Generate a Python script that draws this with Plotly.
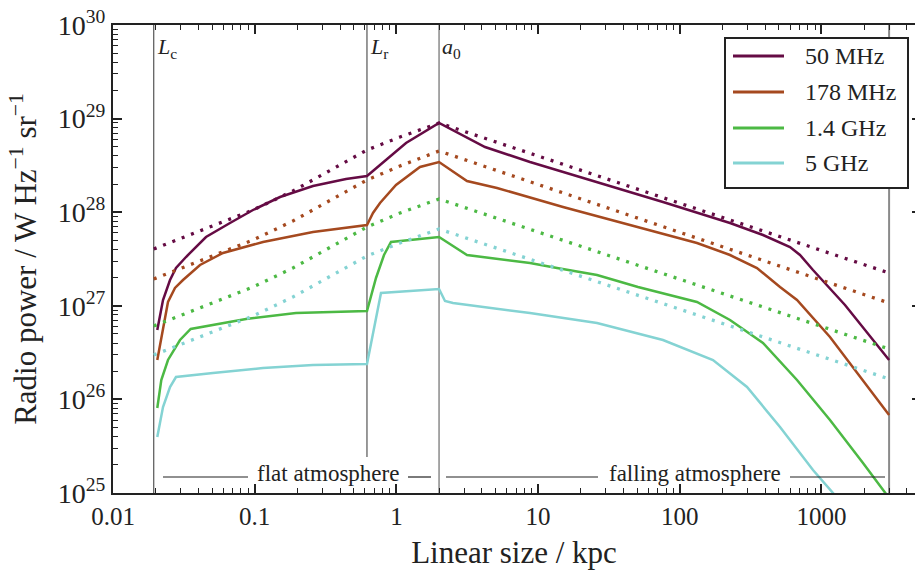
import math
import plotly.graph_objects as go

# ---------------- data ----------------
series_names = ["50 MHz", "178 MHz", "1.4 GHz", "5 GHz"]
series_colors = ["#650b44", "#a5491f", "#4cb944", "#84d3d3"]

x_50 = [0.02054, 0.02254, 0.02526, 0.02783, 0.03275, 0.04532, 0.06694, 0.09727, 0.1509, 0.2578,
        0.4408, 0.6201, 0.7663, 1.169, 2.0, 4.221, 8.767, 26.05, 76.08, 226.1, 386.5, 599.6,
        705.1, 871.0, 1465, 3000]
y_50 = [5.51e26, 1.153e27, 1.886e27, 2.534e27, 3.322e27, 5.433e27, 7.666e27, 1.056e28, 1.453e28,
        1.905e28, 2.263e28, 2.437e28, 3.194e28, 5.487e28, 8.974e28, 4.974e28, 3.439e28, 2.102e28,
        1.285e28, 7.666e27, 5.705e27, 4.248e27, 3.489e27, 2.413e27, 1.020e27, 2.637e26]

x_178 = [0.02054, 0.02217, 0.02444, 0.02738, 0.03119, 0.04111, 0.05974, 0.1144, 0.2578, 0.6201,
         0.6837, 0.7663, 0.9936, 1.467, 2.0, 3.149, 5.129, 14.99, 44.53, 132.2, 226.1, 350.6,
         509.6, 671.7, 1148, 1963, 3000]
y_178 = [2.637e26, 5.122e26, 1.098e27, 1.550e27, 1.886e27, 2.728e27, 3.666e27, 4.804e27, 6.145e27,
         7.298e27, 9.806e27, 1.254e28, 1.953e28, 3.040e28, 3.439e28, 2.154e28, 1.814e28, 1.137e28,
         7.298e27, 4.687e27, 3.489e27, 2.534e27, 1.588e27, 1.153e27, 4.642e26, 1.612e26, 6.813e25]

x_1400 = [0.02054, 0.02192, 0.02444, 0.02971, 0.03534, 0.08682, 0.1956, 0.6201, 0.7178, 0.8177,
          0.916, 2.0, 3.149, 8.767, 13.6, 26.05, 50.7, 132.2, 226.1, 386.5, 671.7, 1148, 1963, 3000]
y_1400 = [8.094e25, 1.612e26, 2.637e26, 4.311e26, 5.651e26, 7.228e26, 8.377e26, 8.799e26, 1.982e27,
          3.489e27, 4.804e27, 5.433e27, 3.489e27, 2.866e27, 2.534e27, 2.134e27, 1.588e27, 1.098e27,
          7.053e26, 4.005e26, 1.612e26, 6.025e25, 2.092e25, 8.84e24]

x_5000 = [0.02054, 0.02254, 0.02526, 0.02783, 0.05077, 0.1144, 0.2578, 0.6201, 0.7787, 2.0, 2.203,
          2.508, 8.767, 26.05, 76.08, 171.5, 298.1, 509.6, 871.0, 1206, 1869]
y_5000 = [3.966e25, 8.296e25, 1.357e26, 1.735e26, 1.915e26, 2.165e26, 2.331e26, 2.389e26, 1.370e27,
          1.512e27, 1.125e27, 1.071e27, 8.377e26, 6.551e26, 4.311e26, 2.637e26, 1.357e26, 5.072e25,
          1.761e25, 1.0e25, 4.03e24]

x_dot = [0.0194, 0.0508, 0.0973, 0.186, 0.340, 0.620, 1.06, 2.0, 3000]
y_50_dot = [4.045e27, 7.124e27, 1.056e28, 1.684e28, 2.824e28, 4.618e28, 6.358e28, 8.974e28, 2.241e27]
y_178_dot = [1.934e27, 3.405e27, 5.047e27, 8.054e27, 1.350e28, 2.208e28, 3.116e28, 4.506e28, 1.071e27]
y_1400_dot = [6.085e26, 1.071e27, 1.588e27, 2.534e27, 4.248e27, 6.948e27, 9.806e27, 1.384e28, 3.456e26]
y_5000_dot = [2.981e26, 5.250e26, 7.780e26, 1.242e27, 2.082e27, 3.405e27, 4.687e27, 6.616e27, 1.652e26]

marker_names = ["<i>L</i><sub>c</sub>", "<i>L</i><sub>r</sub>", "<i>a</i><sub>0</sub>", ""]
marker_x = [0.0194, 0.62, 2.0, 3000]

x_tickvals = [0.01, 0.1, 1, 10, 100, 1000]
x_ticktext = ["0.01", "0.1", "1", "10", "100", "1000"]
y_tickvals = [1e25, 1e26, 1e27, 1e28, 1e29, 1e30]
y_ticktext = ["10<sup>25</sup>", "10<sup>26</sup>", "10<sup>27</sup>", "10<sup>28</sup>",
              "10<sup>29</sup>", "10<sup>30</sup>"]
x_minor = [m * 10.0 ** k for k in range(-2, 4) for m in range(2, 10)]
y_minor = [m * 10.0 ** k for k in range(25, 30) for m in range(2, 10)]

# ---------------- layout helpers (pixel geometry) ----------------
W, H = 915, 573
PL, PR, PT, PB = 113, 915, 25, 493
FONT = "Liberation Serif"
INK = "#222222"
XRANGE = [-2, math.log10(4570)]
YRANGE = [25, 30]


def pxx(p):
    return (p - PL) / (PR - PL)


def pxy(p):
    return (PB - p) / (PB - PT)


fig = go.Figure()

solids = [(x_50, y_50), (x_178, y_178), (x_1400, y_1400), (x_5000, y_5000)]
dots = [y_50_dot, y_178_dot, y_1400_dot, y_5000_dot]

for (xs, ys), yd, name, col in zip(solids, dots, series_names, series_colors):
    fig.add_trace(go.Scatter(x=xs, y=ys, mode="lines", name=name,
                             line=dict(color=col, width=2.5), showlegend=False))
    fig.add_trace(go.Scatter(x=x_dot, y=yd, mode="lines", name=name + " (model)",
                             line=dict(color=col, width=3.3, dash="3px,7px"), showlegend=False))

# empty helper traces so the minor-tick / right-tick overlay axes get drawn
fig.add_trace(go.Scatter(x=[], y=[], xaxis="x2", yaxis="y2", showlegend=False, hoverinfo="skip"))
fig.add_trace(go.Scatter(x=[], y=[], xaxis="x2", yaxis="y3", showlegend=False, hoverinfo="skip"))

shapes = []
# vertical marker lines
line_styles = [("#333333", 1), ("#333333", 1), ("#8a8a8a", 1.5), ("#8a8a8a", 2)]
for i, (mx, (lc, lw)) in enumerate(zip(marker_x, line_styles)):
    y0 = pxy(457) if i == 1 else 0
    shapes.append(dict(type="line", xref="x", yref="paper", x0=mx, x1=mx, y0=y0, y1=1,
                       line=dict(color=lc, width=lw), layer="below"))

# range bars at the bottom
for a, b in [(163, 248), (408, 431), (446, 598), (790, 885)]:
    shapes.append(dict(type="line", xref="paper", yref="paper", x0=pxx(a), x1=pxx(b),
                       y0=pxy(477), y1=pxy(477), line=dict(color=INK, width=1.2)))

# manual legend
shapes.append(dict(type="rect", xref="paper", yref="paper", x0=pxx(725), x1=pxx(908),
                   y0=pxy(188), y1=pxy(38), fillcolor="white", line=dict(color=INK, width=2),
                   layer="above"))
legend_y = [56, 92, 128, 163]
annotations = []
for name, col, ly in zip(series_names, series_colors, legend_y):
    shapes.append(dict(type="line", xref="paper", yref="paper", x0=pxx(733), x1=pxx(784),
                       y0=pxy(ly), y1=pxy(ly), line=dict(color=col, width=3), layer="above"))
    annotations.append(dict(xref="paper", yref="paper", x=pxx(803), y=pxy(ly), text=name,
                            showarrow=False, xanchor="left", yanchor="middle",
                            font=dict(family=FONT, size=24, color=INK)))

# marker labels
for lab, mx in zip(marker_names, marker_x):
    if lab:
        annotations.append(dict(xref="x", yref="paper", x=math.log10(mx), y=pxy(48), text=lab,
                                showarrow=False, xanchor="left", yanchor="middle", xshift=1,
                                font=dict(family=FONT, size=22, color=INK)))

annotations.append(dict(xref="paper", yref="paper", x=pxx(328), y=pxy(473),
                        text="flat atmosphere", showarrow=False,
                        xanchor="center", yanchor="middle",
                        font=dict(family=FONT, size=23, color=INK)))
annotations.append(dict(xref="paper", yref="paper", x=pxx(694.5), y=pxy(473),
                        text="falling atmosphere", showarrow=False,
                        xanchor="center", yanchor="middle",
                        font=dict(family=FONT, size=23, color=INK)))

fig.update_layout(
    xaxis=dict(type="log", range=XRANGE, tickmode="array",
               tickvals=x_tickvals, ticktext=x_ticktext,
               tickfont=dict(family=FONT, size=25, color=INK),
               showline=True, linecolor=INK, linewidth=2, mirror="ticks",
               ticks="inside", ticklen=9, tickwidth=1.5, tickcolor=INK,
               showgrid=False, zeroline=False,
               title=dict(text="Linear size / kpc", font=dict(family=FONT, size=31, color=INK),
                          standoff=12)),
    yaxis=dict(type="log", range=YRANGE, tickmode="array",
               tickvals=y_tickvals, ticktext=y_ticktext,
               tickfont=dict(family=FONT, size=28, color=INK),
               showline=True, linecolor=INK, linewidth=2, mirror=False,
               ticks="inside", ticklen=9, tickwidth=1.5, tickcolor=INK,
               showgrid=False, zeroline=False,
               title=dict(text="Radio power / W Hz<sup>−1</sup> sr<sup>−1</sup>",
                          font=dict(family=FONT, size=31, color=INK), standoff=12)),
    # minor ticks on bottom and top
    xaxis2=dict(type="log", range=XRANGE, overlaying="x", anchor="y", side="bottom",
                tickmode="array", tickvals=x_minor, showticklabels=False,
                ticks="inside", ticklen=5, tickwidth=1.3, tickcolor=INK, mirror="ticks",
                showline=False, showgrid=False, zeroline=False),
    # minor ticks on the left
    yaxis2=dict(type="log", range=YRANGE, overlaying="y", anchor="x", side="left",
                tickmode="array", tickvals=y_minor, showticklabels=False,
                ticks="inside", ticklen=5, tickwidth=1.3, tickcolor=INK,
                showline=False, showgrid=False, zeroline=False),
    # short major ticks on the (cropped) right edge
    yaxis3=dict(type="log", range=YRANGE, overlaying="y", anchor="x", side="right",
                tickmode="array", tickvals=y_tickvals, showticklabels=False,
                ticks="inside", ticklen=3, tickwidth=1.5, tickcolor=INK,
                showline=False, showgrid=False, zeroline=False),
    width=W, height=H, autosize=False,
    margin=dict(l=PL, r=W - PR, t=PT, b=H - PB),
    plot_bgcolor="white", paper_bgcolor="white",
    showlegend=False, shapes=shapes, annotations=annotations,
    font=dict(family=FONT, color=INK))

fig.write_html("out.html", config={"displayModeBar": False},
               post_script="document.body.style.margin='0px';document.body.style.overflow='hidden';")
